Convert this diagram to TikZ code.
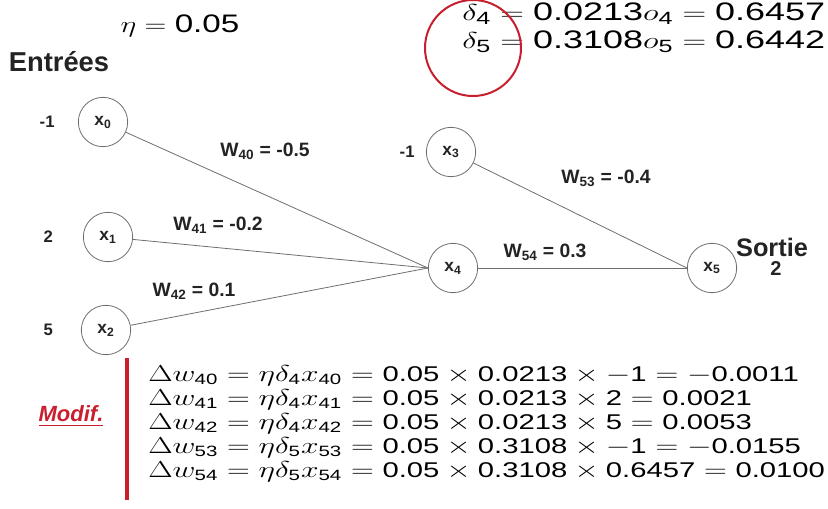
\documentclass[tikz,border=0pt]{standalone}
\usepackage{fontspec}
\setmainfont{Liberation Sans}
\usepackage{amsmath}
\usepackage{graphicx}
\usepackage{tikz}
\usetikzlibrary{positioning}
% digits in formulas from the text font
\newcommand{\dig}[1]{\text{#1}}
\newcommand{\widemath}[2][1.31]{\scalebox{#1}[1]{#2}}
\definecolor{myred}{RGB}{200,30,45}
\definecolor{mygray}{RGB}{110,110,110}
\definecolor{mydark}{RGB}{35,35,35}
\tikzset{
  neuron/.style={circle, draw=mygray, fill=white, minimum size=37pt,
    inner sep=0pt, line width=0.6pt, text=mydark,
    font=\bfseries\fontsize{13}{13}\selectfont},
  inlabel/.style={font=\bfseries\fontsize{12.5}{14}\selectfont, text=mydark},
  wlabel/.style={font=\bfseries\fontsize{14.5}{16}\selectfont, text=mydark,
    inner sep=1pt},
  title/.style={font=\bfseries\fontsize{20.5}{22}\selectfont, text=mydark},
  bigmath/.style={font=\fontsize{19}{21}\selectfont, inner sep=0pt},
  eqblock/.style={font=\fontsize{16}{18}\selectfont, inner sep=0pt},
  conn/.style={draw=mygray, line width=0.6pt},
  redbar/.style={draw=myred, line width=3pt},
  highlight/.style={draw=myred, line width=1.5pt}
}
\begin{document}
\begin{tikzpicture}[x=0.75pt, y=-0.75pt]
  \useasboundingbox (0,0) rectangle (828,508);
  % neurons
  \node[neuron] (x0) at (103,122) {x\textsubscript{0}};
  \node[neuron] (x1) at (108,237) {x\textsubscript{1}};
  \node[neuron] (x2) at (106,330) {x\textsubscript{2}};
  \node[neuron] (x3) at (451,152) {x\textsubscript{3}};
  \node[neuron] (x4) at (453,268) {x\textsubscript{4}};
  \node[neuron] (x5) at (712,268) {x\textsubscript{5}};
  % input values
  \node[inlabel, left=14pt of x0]   (v0) {-1};
  \node[inlabel, left=19pt of x1]   (v1) {2};
  \node[inlabel, left=17.5pt of x2] (v2) {5};
  \node[inlabel, left=5pt of x3]    (v3) {-1};
  \node[title] (entrees) at (59,62) {Entrées};
  \node[font=\bfseries\fontsize{19}{19}\selectfont, text=mydark] (sortie) at (772,247) {Sortie};
  \node[font=\bfseries\fontsize{15}{15}\selectfont, text=mydark,
        below=-3pt of sortie, xshift=3pt] (vout) {2};

  \draw[conn] (x0) -- (x4.west);
  \draw[conn] (x1) -- (x4.west);
  \draw[conn] (x2) -- (x4.west);
  \draw[conn] (x3) -- (x5.west);
  \draw[conn] (x4) -- (x5);
  % weights
  \node[wlabel] (w40) at (265,151) {W\textsubscript{40} = -0.5};
  \node[wlabel] (w41) at (218,225) {W\textsubscript{41} = -0.2};
  \node[wlabel] (w42) at (194,291) {W\textsubscript{42} = 0.1};
  \node[wlabel] (w53) at (606,178) {W\textsubscript{53} = -0.4};
  \node[wlabel] (w54) at (545,252) {W\textsubscript{54} = 0.3};

  % parameters
  \node[bigmath] (eta) at (180,26) {\widemath{$\eta = \dig{0.05}$}};
  \node[bigmath, anchor=west] (deltas) at (462,29)
    {\widemath[1.42]{\begin{tabular}{@{}l@{}}
      $\delta_{\dig{4}} = \dig{0.0213} o_{\dig{4}} = \dig{0.6457}$\\
      $\delta_{\dig{5}} = \dig{0.3108} o_{\dig{5}} = \dig{0.6442}$
     \end{tabular}}};
  \draw[highlight] (473,48) circle[radius=48];

  % weight updates
  \node[eqblock, anchor=north west] (deltaw) at (148,364)
    {\widemath[1.37]{\begin{tabular}{@{}l@{}}
     $\Delta w_{\dig{40}} = \eta\delta_{\dig{4}} x_{\dig{40}} = \dig{0.05} \times \dig{0.0213} \times -\dig{1} = -\dig{0.0011}$\\
     $\Delta w_{\dig{41}} = \eta\delta_{\dig{4}} x_{\dig{41}} = \dig{0.05} \times \dig{0.0213} \times \dig{2} = \dig{0.0021}$\\
     $\Delta w_{\dig{42}} = \eta\delta_{\dig{4}} x_{\dig{42}} = \dig{0.05} \times \dig{0.0213} \times \dig{5} = \dig{0.0053}$\\
     $\Delta w_{\dig{53}} = \eta\delta_{\dig{5}} x_{\dig{53}} = \dig{0.05} \times \dig{0.3108} \times -\dig{1} = -\dig{0.0155}$\\
     $\Delta w_{\dig{54}} = \eta\delta_{\dig{5}} x_{\dig{54}} = \dig{0.05} \times \dig{0.3108} \times \dig{0.6457} = \dig{0.0100}$
     \end{tabular}}};
  \coordinate (bartop) at (127,358);
  \coordinate (barbot) at (127,500);
  \draw[redbar] (bartop) -- (barbot);
  \node[text=myred, font=\bfseries\itshape\fontsize{16.5}{18}\selectfont] (modif) at (71,416)
    {\underline{Modif.}};
\end{tikzpicture}
\end{document}
